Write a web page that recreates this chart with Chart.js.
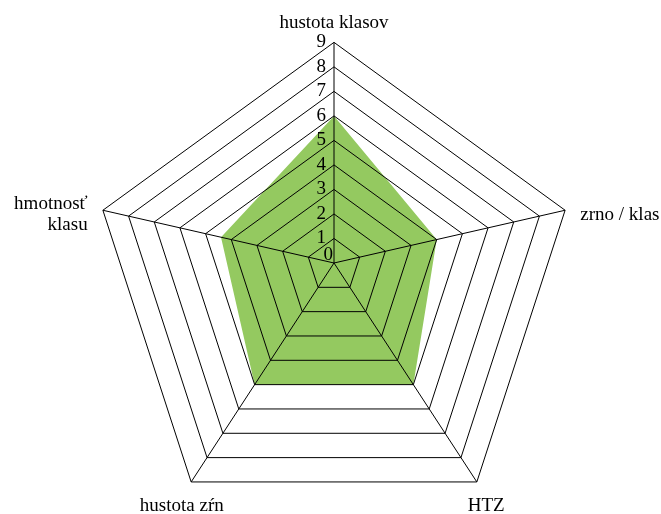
<!DOCTYPE html>
<html>
<head>
<meta charset="utf-8">
<title>Radar</title>
<script src="https://cdn.jsdelivr.net/npm/chart.js@4/dist/chart.umd.min.js"></script>
<style>
  html, body { margin: 0; padding: 0; background: #fff; }
  canvas { display: block; }
</style>
</head>
<body>
<canvas id="radar" width="661" height="514"></canvas>
<script>
// data
const axisLabels = ['hustota klasov', 'zrno / klas', 'HTZ', 'hustota zŕn', ['hmotnosť', 'klasu']];
const seriesValues = [6, 4, 5, 5, 4.4];
const tickValues = [0, 1, 2, 3, 4, 5, 6, 7, 8, 9];

const FILL = '#94c960';
const FONT = '19px "Liberation Serif", "Times New Roman", serif';
// rings slide slightly downward as they grow (the original is drawn a bit in perspective)
const TILT = 0.092;

class TiltedRadialScale extends Chart.RadialLinearScale {
  static id = 'tiltedRadial';
  getPointPosition(index, distance, angleAdjust = 0) {
    const p = super.getPointPosition(index, distance, angleAdjust);
    return { x: p.x, y: p.y + distance * TILT, angle: p.angle };
  }
}
Chart.register(TiltedRadialScale);

// tick numbers and axis titles, drawn by hand so they sit like the original
const overlay = {
  id: 'overlay',
  afterDraw(chart) {
    const ctx = chart.ctx;
    const r = chart.scales.r;
    ctx.save();
    ctx.fillStyle = '#000';
    ctx.font = FONT;

    ctx.textAlign = 'right';
    ctx.textBaseline = 'middle';
    tickValues.forEach(v => {
      const p = r.getPointPositionForValue(0, v);
      if (v === 0) ctx.fillText(String(v), p.x - 1, p.y - 8);
      else ctx.fillText(String(v), p.x - 8, p.y);
    });

    const lineH = 20.5;
    ctx.textBaseline = 'alphabetic';
    axisLabels.forEach((lab, i) => {
      const lines = [].concat(lab);
      const p = r.getPointPosition(i, r.drawingArea + 16);
      const dx = p.x - r.xCenter;
      if (Math.abs(dx) < 1) {
        ctx.textAlign = 'center';
        lines.slice().reverse().forEach((t, k) => ctx.fillText(t, p.x, p.y - k * lineH));
      } else if (p.y > r.yCenter + r.drawingArea * 0.5) {
        ctx.textAlign = 'center';
        lines.forEach((t, k) => ctx.fillText(t, p.x, p.y + 15 + k * lineH));
      } else {
        ctx.textAlign = dx > 0 ? 'left' : 'right';
        const top = p.y + 8 - (lines.length * lineH) / 2;
        lines.forEach((t, k) => ctx.fillText(t, p.x, top + k * lineH + 15));
      }
    });
    ctx.restore();
  }
};

new Chart(document.getElementById('radar'), {
  type: 'radar',
  data: {
    labels: axisLabels,
    datasets: [{
      data: seriesValues,
      backgroundColor: FILL,
      borderWidth: 0,
      pointRadius: 0,
      fill: true
    }]
  },
  options: {
    responsive: false,
    animation: false,
    layout: { padding: { top: 20, bottom: 7, left: 7, right: 0 } },
    plugins: {
      legend: { display: false },
      tooltip: { enabled: false }
    },
    scales: {
      r: {
        type: 'tiltedRadial',
        min: 0,
        max: 9,
        ticks: { display: false, stepSize: 1 },
        grid: { color: '#000', lineWidth: 1, z: 1 },
        angleLines: { color: '#000', lineWidth: 1 },
        pointLabels: { display: false }
      }
    }
  },
  plugins: [overlay]
});
</script>
</body>
</html>
